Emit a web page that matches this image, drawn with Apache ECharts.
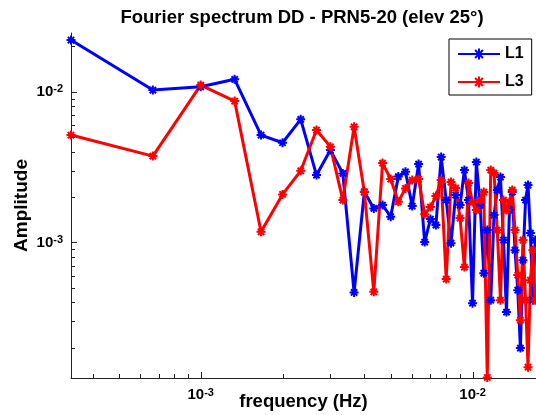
<!DOCTYPE html>
<html><head><meta charset="utf-8">
<script src="https://cdn.jsdelivr.net/npm/echarts@6/dist/echarts.min.js"></script>
<style>html,body{margin:0;padding:0;background:#fff}#c{width:536px;height:415px}</style>
</head><body><div id="c"></div>
<script>
// ---- data ----
const frequency = [0.0003333,0.0006667,0.001,0.001333,0.001667,0.002,0.002333,0.002667,0.003,0.003333,
  0.003667,0.004,0.004333,0.004667,0.005,0.005333,0.005667,0.006,0.006333,0.006667,
  0.007,0.007333,0.007667,0.008,0.008333,0.008667,0.009,0.009333,0.009667,0.01,
  0.01033,0.01067,0.011,0.01133,0.01167,0.012,0.01233,0.01267,0.013,0.01333,
  0.01367,0.014,0.01433,0.01467,0.015,0.01533,0.01567,0.016,0.01633,0.01667,0.017];
const ampL1 = [0.02204,0.01026,0.01079,0.01209,0.005158,0.004586,0.006557,0.002798,0.004101,0.002872,
  0.0004656,0.002168,0.001682,0.001769,0.001483,0.002734,0.002943,0.001742,0.003311,0.001005,
  0.001428,0.001303,0.003686,0.00191,0.000989,0.002062,0.001769,0.00302,0.00191,0.000395,
  0.003414,0.001769,0.000625,0.001207,0.000414,0.001518,0.002225,0.002714,0.001036,0.000345,
  0.001639,0.002158,0.000889,0.000482,0.000199,0.000763,0.00191,0.002402,0.001153,0.000414,0.001036];
const ampL3 = [0.005158,0.003741,0.01108,0.00867,0.001176,0.002084,0.002988,0.005568,0.004313,0.00191,
  0.005855,0.002158,0.00047,0.003362,0.002633,0.00186,0.002284,0.002593,0.002633,0.001541,
  0.001716,0.00203,0.002593,0.000571,0.002515,0.002294,0.00145,0.000686,0.002476,0.001852,
  0.001639,0.00191,0.002158,0.000127,0.00302,0.002886,0.001207,0.000414,0.00191,0.001639,
  0.001852,0.002225,0.001207,0.000607,0.000305,0.001036,0.000414,0.0001486,0.000562,0.000889,0.000414];
const seriesNames = ['L1', 'L3'];
const seriesColors = ['#0000ff', '#ff0000'];
const titleText = 'Fourier spectrum DD - PRN5-20 (elev 25\u00b0)';
const xName = 'frequency (Hz)';
const yName = 'Amplitude';
const xRange = [0.0003333, 0.01712];
const yRange = [0.000126, 0.02454];
const tickDecades = [-4, -3, -2];
const tickMantissas = [1, 2, 3, 4, 5, 6, 7, 8, 9];

// ---- chart ----
const FONT = '"Liberation Sans", Arial, sans-serif';
const chart = echarts.init(document.getElementById('c'), null, {renderer: 'canvas'});

function tickValues(range) {
  const out = [];
  tickDecades.forEach(e => tickMantissas.forEach(m => {
    const v = m * Math.pow(10, e);
    if (v > range[0] * 1.0001 && v < range[1] * 0.9999) out.push([v, m === 1 ? 1 : 0]);
  }));
  return out;
}
const rich = {
  b: {fontSize: 15, fontWeight: 'bold', fontFamily: FONT, color: '#000', lineHeight: 16, verticalAlign: 'middle'},
  s: {fontSize: 11, fontWeight: 'bold', fontFamily: FONT, color: '#000', lineHeight: 10, verticalAlign: 'top', padding: [0, 0, 20, 0]}
};
function powLabel(v) {
  const l = Math.log10(v), r = Math.round(l);
  if (Math.abs(l - r) > 1e-6) return '';
  return '{b|10}{s|' + r + '}';
}
const asterisk = 'path://M0 -10 L0 10 M-10 0 L10 0 M-7 -7 L7 7 M-7 7 L7 -7';

const lineSeries = [ampL1, ampL3].map((arr, i) => ({
  name: seriesNames[i], type: 'line',
  data: frequency.map((f, j) => [f, arr[j]]),
  symbol: asterisk, symbolSize: 9, showSymbol: true,
  lineStyle: {color: seriesColors[i], width: 3},
  itemStyle: {color: seriesColors[i], borderColor: seriesColors[i], borderWidth: 2},
  emphasis: {disabled: true}, animation: false
}));

const xTicks = {
  type: 'custom', silent: true, clip: false, z: 5, animation: false,
  data: tickValues(xRange).map(t => [t[0], yRange[0], t[1]]),
  encode: {x: 0, y: 1},
  renderItem: (params, api) => {
    const p = api.coord([api.value(0), api.value(1)]);
    const x = Math.round(p[0]) + 0.5, len = api.value(2) ? 6 : 4;
    return {type: 'line', shape: {x1: x, y1: p[1], x2: x, y2: p[1] - len}, style: {stroke: '#222', lineWidth: 1}};
  }
};
const yTicks = {
  type: 'custom', silent: true, clip: false, z: 5, animation: false,
  data: tickValues(yRange).map(t => [xRange[0], t[0], t[1]]),
  encode: {x: 0, y: 1},
  renderItem: (params, api) => {
    const p = api.coord([api.value(0), api.value(1)]);
    const y = Math.round(p[1]) + 0.5, len = api.value(2) ? 6 : 4;
    return {type: 'line', shape: {x1: p[0], y1: y, x2: p[0] + len, y2: y}, style: {stroke: '#222', lineWidth: 1}};
  }
};

chart.setOption({
  backgroundColor: '#fff',
  animation: false,
  title: {text: titleText, left: 297, top: 3, textAlign: 'center',
    textStyle: {fontSize: 18.5, fontWeight: 'bold', fontFamily: FONT, color: '#000'}},
  grid: {left: 71, right: 0, top: 33, bottom: 37, containLabel: false, outerBoundsMode: 'none'},
  legend: {data: seriesNames, orient: 'vertical', left: 449, top: 39,
    padding: [7, 8, 5, 8], itemGap: 12, itemWidth: 42, itemHeight: 14,
    backgroundColor: '#fff', borderColor: '#000', borderWidth: 1, borderRadius: 0,
    textStyle: {fontSize: 16, fontWeight: 'bold', fontFamily: FONT, color: '#000'}},
  xAxis: {type: 'log', logBase: 10, min: xRange[0], max: xRange[1],
    name: xName, nameLocation: 'middle', nameGap: 14, nameMoveOverlap: false,
    nameTextStyle: {fontSize: 18.5, fontWeight: 'bold', fontFamily: FONT, color: '#000'},
    axisLine: {show: true, lineStyle: {color: '#222', width: 1}},
    axisTick: {show: false}, minorTick: {show: false}, splitLine: {show: false},
    axisLabel: {margin: 9, formatter: powLabel, rich: rich}},
  yAxis: {type: 'log', logBase: 10, min: yRange[0], max: yRange[1],
    name: yName, nameLocation: 'middle', nameGap: 40, nameMoveOverlap: false,
    nameTextStyle: {fontSize: 19, fontWeight: 'bold', fontFamily: FONT, color: '#000'},
    axisLine: {show: true, lineStyle: {color: '#222', width: 1}},
    axisTick: {show: false}, minorTick: {show: false}, splitLine: {show: false},
    axisLabel: {margin: 8, formatter: powLabel, rich: rich}},
  series: [xTicks, yTicks].concat(lineSeries)
});
</script></body></html>
